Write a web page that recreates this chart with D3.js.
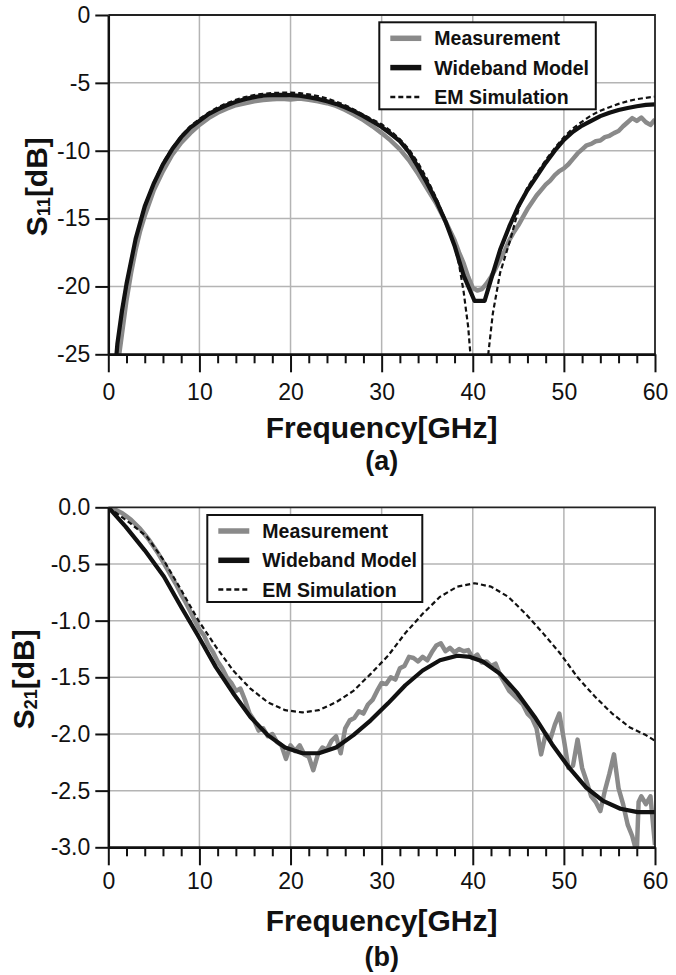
<!DOCTYPE html>
<html>
<head>
<meta charset="utf-8">
<script src="https://d3js.org/d3.v7.min.js"></script>
<style>
  body { margin: 0; background: #fff; }
  svg { display: block; }
  .tick text { font-family: "Liberation Sans", Arial, sans-serif; font-size: 23px; fill: #111; }
  .title { font-family: "Liberation Sans", Arial, sans-serif; font-weight: bold; fill: #111; }
  .legend text { font-family: "Liberation Sans", Arial, sans-serif; font-weight: bold; font-size: 19.5px; fill: #111; }
</style>
</head>
<body>
<script>

// DATA //

var freqTicks = [0, 10, 20, 30, 40, 50, 60];
var freqMinor = d3.range(0, 61, 2).filter(function (d) { return d % 10 != 0; });
var s11Ticks = [0, -5, -10, -15, -20, -25];
var s21Ticks = [0, -0.5, -1.0, -1.5, -2.0, -2.5, -3.0];
var seriesNames = ["Measurement", "Wideband Model", "EM Simulation"];

// S11 [f GHz, dB]
var s11Meas = [[1.2, -25], [1.5, -23.5], [2, -21.0], [2.5, -19.0], [3, -17.3], [3.5, -15.9], [4, -14.8],
  [5, -12.9], [6, -11.5], [7, -10.3], [8, -9.4], [9, -8.7], [10, -8.1], [11, -7.6], [12, -7.2],
  [13, -6.9], [14, -6.65], [15, -6.5], [16, -6.35], [17, -6.27], [18, -6.2], [19, -6.18], [20, -6.22],
  [21, -6.15], [22, -6.25], [23, -6.35], [24, -6.5], [25, -6.7], [26, -7.0], [27, -7.35], [28, -7.75],
  [29, -8.2], [30, -8.7], [31, -9.25], [32, -9.9], [33, -10.7], [34, -11.7], [35, -12.8], [36, -13.9],
  [37, -15.2], [38, -16.6], [38.5, -17.5], [39, -18.3], [39.5, -19.3], [40, -20.1], [40.5, -20.3],
  [41, -20.2], [41.5, -19.8], [42, -19.3], [42.5, -18.7], [43, -18.0], [43.5, -17.4], [44, -16.6],
  [44.5, -16.0], [45, -15.5], [45.5, -14.9], [46, -14.3], [46.5, -13.8], [47, -13.3], [47.5, -12.9],
  [48, -12.5], [48.5, -12.2], [49, -11.8], [49.5, -11.5], [50, -11.3], [50.5, -11.0], [51, -10.6],
  [51.5, -10.2], [52, -9.9], [52.5, -9.6], [53, -9.5], [53.5, -9.3], [54, -9.25], [54.5, -9.0],
  [55, -8.9], [55.5, -8.7], [56, -8.55], [56.5, -8.2], [57, -7.9], [57.5, -7.6], [58, -7.8],
  [58.5, -7.55], [59, -7.9], [59.5, -8.1], [60, -7.7]];

var s11Model = [[0.9, -25], [1, -24.2], [1.5, -21.8], [2, -19.8], [3, -16.5], [4, -14.1], [5, -12.4],
  [6, -11.0], [7, -9.9], [8, -9.0], [9, -8.3], [10, -7.8], [11, -7.3], [12, -6.95], [13, -6.65],
  [14, -6.4], [15, -6.2], [16, -6.05], [17, -5.95], [18, -5.9], [19, -5.88], [20, -5.9], [21, -5.95],
  [22, -6.05], [23, -6.18], [24, -6.35], [25, -6.55], [26, -6.8], [27, -7.1], [28, -7.45], [29, -7.85],
  [30, -8.25], [31, -8.75], [32, -9.3], [33, -10.1], [34, -11.2], [35, -12.4], [36, -13.7], [37, -15.2],
  [38, -17.0], [39, -19.2], [40.2, -21.07], [41.3, -21.07], [42, -19.5], [43, -17.3], [44, -15.6],
  [45, -14.1], [46, -12.9], [47, -11.9], [48, -10.9], [49, -10.0], [50, -9.2], [51, -8.6], [52, -8.15],
  [53, -7.8], [54, -7.45], [55, -7.2], [56, -7.0], [57, -6.85], [58, -6.72], [59, -6.62], [60, -6.58]];

var s11Em = [[0.9, -25], [1, -24.3], [1.5, -21.9], [2, -19.9], [3, -16.5], [4, -14.1], [5, -12.3],
  [6, -10.9], [7, -9.8], [8, -8.9], [9, -8.2], [10, -7.65], [11, -7.2], [12, -6.8], [13, -6.5],
  [14, -6.25], [15, -6.05], [16, -5.9], [17, -5.8], [18, -5.75], [19, -5.72], [20, -5.72], [21, -5.76],
  [22, -5.85], [23, -5.98], [24, -6.15], [25, -6.38], [26, -6.65], [27, -6.98], [28, -7.35], [29, -7.7],
  [30, -8.05], [31, -8.55], [32, -9.15], [33, -9.9], [34, -10.9], [35, -12.1], [36, -13.5], [37, -15.1],
  [38, -17.0], [38.5, -18.4], [39, -20.4], [39.5, -23.0], [39.8, -25.5], [40.7, -30], [41.7, -25],
  [42.2, -22], [43, -19], [44.1, -16.6], [45.2, -13.9], [46, -12.7], [47, -11.7], [48, -10.7],
  [49, -9.8], [50, -9.0], [51, -8.35], [52, -7.85], [53, -7.4], [54, -7.05], [55, -6.8], [56, -6.55],
  [57, -6.35], [58, -6.2], [59, -6.1], [60, -6.02]];

// S21 [f GHz, dB]
var s21Meas = [[0, 0], [0.5, -0.01], [1, -0.03], [1.5, -0.05], [2, -0.08], [2.5, -0.11], [3, -0.15],
  [3.5, -0.19], [4, -0.24], [4.5, -0.29], [5, -0.35], [5.5, -0.41], [6, -0.48], [6.5, -0.55], [7, -0.62],
  [7.5, -0.69], [8, -0.77], [8.5, -0.84], [9, -0.92], [9.5, -1.0], [10, -1.08], [10.5, -1.13],
  [11, -1.22], [11.5, -1.28], [12, -1.36], [12.5, -1.42], [13, -1.50], [13.5, -1.55], [14, -1.62],
  [14.5, -1.60], [15, -1.70], [15.5, -1.82], [16, -1.88], [16.5, -1.97], [17, -1.95], [17.5, -2.02],
  [18, -2.0], [18.5, -2.07], [19, -2.1], [19.5, -2.22], [20, -2.1], [20.5, -2.15], [21, -2.1],
  [21.5, -2.18], [22, -2.2], [22.5, -2.32], [23, -2.18], [23.5, -2.12], [24, -2.14], [24.5, -2.06],
  [25, -2.02], [25.5, -2.17], [26, -1.95], [26.5, -1.88], [27, -1.86], [27.5, -1.80], [28, -1.82],
  [28.5, -1.74], [29, -1.70], [29.5, -1.62], [30, -1.55], [30.5, -1.56], [31, -1.50], [31.5, -1.52],
  [32, -1.42], [32.5, -1.40], [33, -1.32], [33.5, -1.33], [34, -1.36], [34.5, -1.32], [35, -1.35],
  [35.5, -1.28], [36, -1.22], [36.5, -1.20], [37, -1.27], [37.5, -1.24], [38, -1.28], [38.5, -1.25],
  [39, -1.27], [39.5, -1.26], [40, -1.33], [40.5, -1.30], [41, -1.37], [41.5, -1.36], [42, -1.40],
  [42.5, -1.38], [43, -1.48], [43.5, -1.55], [44, -1.62], [44.5, -1.66], [45, -1.70], [45.5, -1.74],
  [46, -1.82], [46.5, -1.86], [47, -1.95], [47.5, -2.18], [48, -2.0], [48.5, -2.05], [49, -1.92],
  [49.5, -1.82], [50, -2.05], [50.5, -2.3], [51, -2.28], [51.5, -2.05], [52, -2.3], [52.5, -2.42],
  [53, -2.55], [53.5, -2.6], [54, -2.68], [54.5, -2.5], [55, -2.35], [55.5, -2.18], [56, -2.48],
  [56.5, -2.62], [57, -2.8], [57.5, -2.9], [58, -3.05], [58.2, -2.6], [58.5, -2.55], [59, -2.62],
  [59.5, -2.55], [60, -2.98]];

var s21Model = [[0, 0], [1.9, -0.17], [4, -0.38], [6.1, -0.61], [8, -0.88], [9.9, -1.14], [11.8, -1.41],
  [13.7, -1.64], [15.6, -1.85], [17.5, -2.01], [19.4, -2.12], [21.3, -2.17], [23.1, -2.17], [25, -2.12],
  [26.9, -2.01], [28.8, -1.88], [30.7, -1.73], [32.6, -1.57], [34.5, -1.44], [36.4, -1.35], [38.3, -1.31],
  [39.7, -1.32], [41.1, -1.36], [43, -1.47], [44.9, -1.64], [46.8, -1.85], [48.7, -2.09], [50.5, -2.29],
  [52.4, -2.47], [54.3, -2.59], [56.2, -2.66], [58.1, -2.69], [60, -2.69]];

var s21Em = [[0, 0], [2.4, -0.14], [4.25, -0.26], [6.1, -0.47], [8, -0.73], [9.9, -1.0], [11.8, -1.23],
  [13.7, -1.44], [15.6, -1.60], [17.5, -1.72], [19.4, -1.79], [21.3, -1.81], [23.1, -1.79], [25, -1.72],
  [26.9, -1.62], [28.8, -1.47], [30.7, -1.31], [32.6, -1.11], [34.5, -0.94], [36.4, -0.79], [38.3, -0.70],
  [40.2, -0.67], [42, -0.70], [43.9, -0.79], [45.8, -0.94], [47.7, -1.11], [49.6, -1.29], [51.5, -1.50],
  [53.4, -1.67], [55.3, -1.82], [57.2, -1.94], [59, -2.01], [60, -2.06]];


// Global variables
var W = 676, H = 975;
var left = 108.3, right = 655;
var svg = d3.select("body").append("svg").attr("width", W).attr("height", H);

var styles = [
  { stroke: "#8a8a8a", width: 4.5, dash: null },
  { stroke: "#111", width: 4.2, dash: null },
  { stroke: "#111", width: 2.2, dash: "5,3" }
];



// PANEL DRAWING //



function drawPanel(p) {

  var x = d3.scaleLinear().domain([0, 60]).range([left, right]);
  var y = d3.scaleLinear().domain(p.yDomain).range([p.top, p.bottom]);
  var g = svg.append("g");

  // Grid lines
  g.selectAll(".vgrid").data(freqTicks.slice(1, -1)).enter()
    .append("line")
    .attr("x1", function (d) { return x(d); })
    .attr("x2", function (d) { return x(d); })
    .attr("y1", p.top).attr("y2", p.bottom)
    .attr("stroke", "#b4b4b4").attr("stroke-width", 1.5);

  g.selectAll(".hgrid").data(p.yTicks.slice(1, -1)).enter()
    .append("line")
    .attr("x1", left).attr("x2", right)
    .attr("y1", function (d) { return y(d); })
    .attr("y2", function (d) { return y(d); })
    .attr("stroke", "#b4b4b4").attr("stroke-width", 1.5);

  // Clip curves to the plot box
  g.append("clipPath").attr("id", p.id + "-clip")
    .append("rect")
    .attr("x", left).attr("y", p.top)
    .attr("width", right - left).attr("height", p.bottom - p.top);

  var line = d3.line()
    .x(function (d) { return x(d[0]); })
    .y(function (d) { return y(d[1]); });

  p.series.forEach(function (s, i) {
    g.append("path")
      .datum(s)
      .attr("clip-path", "url(#" + p.id + "-clip)")
      .attr("d", line)
      .attr("fill", "none")
      .attr("stroke", styles[i].stroke)
      .attr("stroke-width", styles[i].width)
      .attr("stroke-dasharray", styles[i].dash)
      .attr("stroke-linejoin", "round");
  });

  // Top and right frame
  g.append("path")
    .attr("d", "M" + left + "," + p.top + "H" + right + "V" + p.bottom)
    .attr("fill", "none").attr("stroke", "#222").attr("stroke-width", 1.8);

  // Axes
  var xMinor = g.append("g").attr("transform", "translate(0," + p.bottom + ")")
    .call(d3.axisBottom(x).tickValues(freqMinor).tickSize(9).tickSizeOuter(0).tickFormat(""));
  var xMajor = g.append("g").attr("transform", "translate(0," + p.bottom + ")")
    .call(d3.axisBottom(x).tickValues(freqTicks).tickSize(18).tickSizeOuter(0).tickPadding(p.xPad));
  var yAxis = g.append("g").attr("transform", "translate(" + left + ",0)")
    .call(d3.axisLeft(y).tickValues(p.yTicks).tickSize(13).tickSizeOuter(0).tickPadding(5)
      .tickFormat(function (d) { return p.fmt(d).replace("\u2212", "-"); }));

  [xMinor, xMajor, yAxis].forEach(function (a) {
    a.select(".domain").attr("stroke", "#111").attr("stroke-width", 2.5);
    a.selectAll(".tick line").attr("stroke", "#111").attr("stroke-width", 2);
  });

  // Axis titles
  g.append("text").attr("class", "title")
    .attr("x", (left + right) / 2).attr("y", p.bottom + p.xTitleDy)
    .attr("text-anchor", "middle").style("font-size", "30px")
    .text("Frequency[GHz]");

  g.append("text").attr("class", "title")
    .attr("x", (left + right) / 2).attr("y", p.bottom + p.tagDy)
    .attr("text-anchor", "middle").style("font-size", "27px")
    .text(p.tag);

  var yt = g.append("text").attr("class", "title")
    .attr("text-anchor", "middle").style("font-size", "30px")
    .attr("transform", "translate(" + p.yTitleX + "," + ((p.top + p.bottom) / 2 + 2) + ") rotate(-90)");
  yt.append("tspan").text("S");
  yt.append("tspan").attr("dy", 3).style("font-size", "18px").text(p.sub);
  yt.append("tspan").attr("dy", -3).text("[dB]");

  // Legend
  var lg = g.append("g").attr("class", "legend")
    .attr("transform", "translate(" + p.legend[0] + "," + p.legend[1] + ")");
  lg.append("rect").attr("width", p.legend[2]).attr("height", 87)
    .attr("fill", "#fff").attr("stroke", "#111").attr("stroke-width", 2);

  seriesNames.forEach(function (name, i) {
    var ry = 16 + i * 29.3;
    lg.append("line")
      .attr("x1", 11).attr("x2", 42).attr("y1", ry).attr("y2", ry)
      .attr("stroke", styles[i].stroke)
      .attr("stroke-width", i == 2 ? 2.5 : 5.5)
      .attr("stroke-dasharray", styles[i].dash);
    lg.append("text").attr("x", 55).attr("y", ry + 7).text(name);
  });
}



// BOTH PANELS //



drawPanel({
  id: "s11", top: 15, bottom: 354.3,
  yDomain: [0, -25], yTicks: s11Ticks, fmt: d3.format("d"),
  series: [s11Meas, s11Model, s11Em],
  xPad: 11, xTitleDy: 84, tagDy: 116, tag: "(a)",
  yTitleX: 47, sub: "11",
  legend: [379.3, 22.3, 216.5]
});

drawPanel({
  id: "s21", top: 507.3, bottom: 847.3,
  yDomain: [0, -3], yTicks: s21Ticks, fmt: d3.format(".1f"),
  series: [s21Meas, s21Model, s21Em],
  xPad: 7.5, xTitleDy: 84, tagDy: 119, tag: "(b)",
  yTitleX: 34, sub: "21",
  legend: [207.3, 515, 215]
});

</script>
</body>
</html>
